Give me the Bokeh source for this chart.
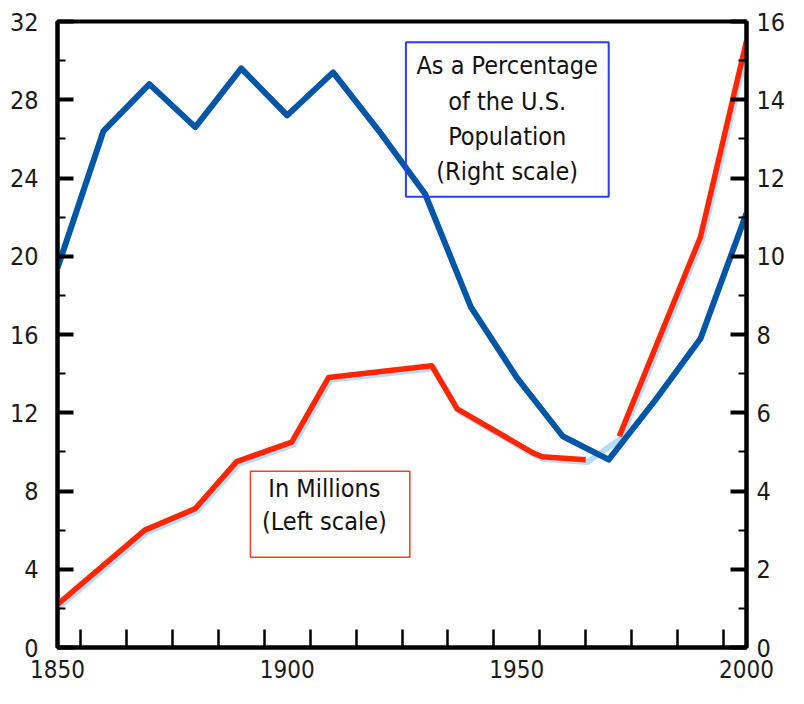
import math
from bokeh.plotting import figure
from bokeh.models import Range1d, LinearAxis, FixedTicker, BoxAnnotation, Label
from bokeh.transform import dodge
from bokeh.embed import file_html
from bokeh.resources import INLINE

# ---- data ----
pct_years = [1850, 1860, 1870, 1880, 1890, 1900, 1910, 1920, 1930, 1940, 1950, 1960, 1970, 1980, 1990, 2000]
pct_values = [9.7, 13.2, 14.4, 13.3, 14.8, 13.6, 14.7, 13.2, 11.6, 8.7, 6.9, 5.4, 4.8, 6.3, 7.9, 11.1]

nan = float("nan")
mil_years = [1850, 1869, 1880, 1889, 1901, 1909, 1931.5, 1937, 1953.5, 1955.5, 1965, nan, 1972.3, 1990, 2000]
mil_values = [2.2, 6.0, 7.1, 9.5, 10.5, 13.8, 14.4, 12.2, 9.95, 9.75, 9.6, nan, 10.8, 21.0, 31.0]

shadow_years = [v for v in mil_years if not math.isnan(v)]
shadow_values = [v for v in mil_values if not math.isnan(v)]

x_tick_labels = [1850, 1900, 1950, 2000]
x_minor = [1855, 1865, 1875, 1885, 1895, 1905, 1915, 1925, 1935, 1945, 1955, 1965, 1975, 1985, 1995]
left_ticks = [0, 4, 8, 12, 16, 20, 24, 28, 32]
left_minor = [2, 6, 10, 14, 18, 22, 26, 30]
right_ticks = [0, 2, 4, 6, 8, 10, 12, 14, 16]
right_minor = [1, 3, 5, 7, 9, 11, 13, 15]

FONT = "DejaVu Sans Condensed"
BLUE = "#0056a6"
RED = "#ff2600"
SHADOW = "#b8dcf6"

p = figure(width=788, height=688, output_backend="svg", toolbar_location=None,
           x_range=Range1d(1850, 2000), y_range=Range1d(0, 32),
           min_border_left=57, min_border_right=40, min_border_top=21, min_border_bottom=41)
p.extra_y_ranges = {"pct": Range1d(0, 16)}

p.xgrid.visible = False
p.ygrid.visible = False
p.outline_line_color = "black"
p.outline_line_width = 4
p.background_fill_color = "white"
p.border_fill_color = "white"

right_axis = LinearAxis(y_range_name="pct")
p.add_layout(right_axis, "right")

def style_axis(ax, ticks, minor, standoff, size="25px"):
    ax.ticker = FixedTicker(ticks=ticks, minor_ticks=minor)
    ax.axis_line_color = "black"
    ax.axis_line_width = 4
    ax.major_tick_in = 16
    ax.major_tick_out = 0
    ax.major_tick_line_width = 4
    ax.minor_tick_in = 8
    ax.minor_tick_out = 0
    ax.minor_tick_line_width = 2
    ax.major_label_text_font = FONT
    ax.major_label_text_font_size = size
    ax.major_label_text_color = "#1a1a1a"
    ax.major_label_standoff = standoff

style_axis(p.yaxis[0], left_ticks, left_minor, 19)
style_axis(right_axis, right_ticks, right_minor, 10)
style_axis(p.xaxis[0], x_tick_labels, x_minor, 12, "24px")
p.xaxis[0].major_tick_in = 0
p.xaxis[0].minor_tick_in = 18
p.xaxis[0].minor_tick_line_width = 2.5

# lines
p.line(x=dodge("x", 0.4, range=p.x_range), y=dodge("y", -0.12, range=p.y_range),
       source=dict(x=shadow_years, y=shadow_values),
       line_color=SHADOW, line_width=6, line_join="round")
p.line(mil_years, mil_values, line_color=RED, line_width=5.5, line_join="round")
p.line(pct_years, pct_values, y_range_name="pct", line_color=BLUE, line_width=6, line_join="round")

# annotation boxes
p.add_layout(BoxAnnotation(left=1925.85, right=1970.0, top=30.94, bottom=23.04,
                           fill_alpha=0, line_color="#2a3cff", line_width=2, line_alpha=1))
p.add_layout(BoxAnnotation(left=1892.0, right=1926.7, top=9.01, bottom=4.61,
                           fill_alpha=0, line_color="#ff3a28", line_width=1.5, line_alpha=1))

blue_lines = ["As a Percentage", "of the U.S.", "Population", "(Right scale)"]
blue_y = [29.74, 27.93, 26.14, 24.34]
for t, yy in zip(blue_lines, blue_y):
    p.add_layout(Label(x=1947.9, y=yy, text=t, text_align="center", text_baseline="middle",
                       text_font=FONT, text_font_size="25px", text_color="#111111"))

red_lines = ["In Millions", "(Left scale)"]
red_y = [8.14, 6.45]
for t, yy in zip(red_lines, red_y):
    p.add_layout(Label(x=1908.1, y=yy, text=t, text_align="center", text_baseline="middle",
                       text_font=FONT, text_font_size="25px", text_color="#111111"))

open("out.html", "w").write(file_html(p, INLINE))
